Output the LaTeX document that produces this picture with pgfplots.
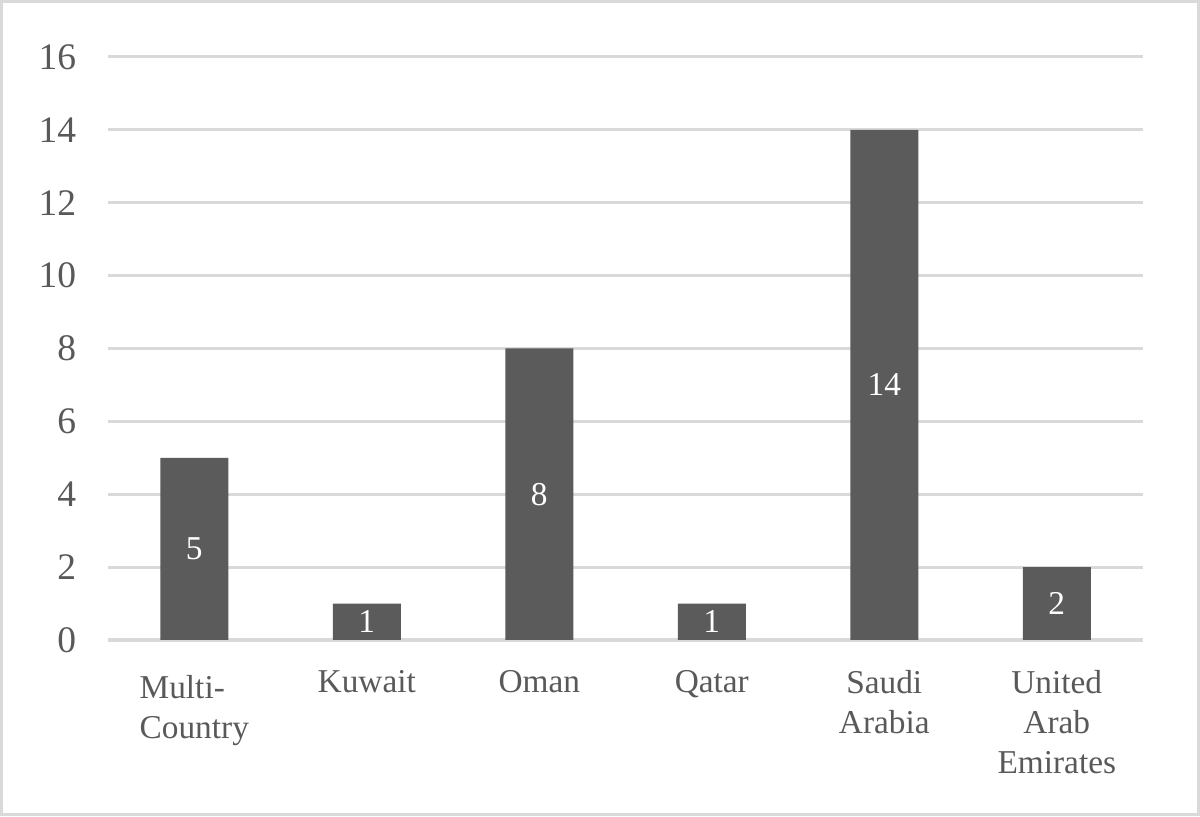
\documentclass[border=0pt]{standalone}
\usepackage{pgfplots}
\pgfplotsset{compat=1.18}
\usepackage{fontspec}
\setmainfont{Liberation Serif}
\definecolor{txtgray}{HTML}{595959}
\definecolor{bargray}{HTML}{5B5B5B}
\definecolor{gridgray}{HTML}{D9D9D9}
\begin{document}
\begin{tikzpicture}
\begin{axis}[
  scale only axis,
  width=372.6pt, height=209.9pt,
  ybar, bar width=24.5pt,
  xmin=-0.5, xmax=5.5,
  ymin=0, ymax=16,
  ytick={0,2,...,16},
  xtick=data,
  xticklabels={{\begin{tabular}{@{}l@{}}Multi-\\Country\end{tabular}},Kuwait,Oman,Qatar,Saudi\\Arabia,United\\Arab\\Emirates},
  axis line style={draw=none},
  major tick length=0pt,
  ymajorgrids,
  grid style={gridgray, line width=1.1pt},
  /pgf/number format/assume math mode=true,
  tick label style={font=\fontsize{12}{14.4}\selectfont, text=txtgray},
  xticklabel style={align=center, anchor=north, yshift=-7.5pt},
  yticklabel style={anchor=east, xshift=-8pt, font=\fontsize{13.5}{15}\selectfont},
  nodes near coords,
  point meta=y,
  visualization depends on={y/2 \as \half},
  every node near coord/.append style={font=\fontsize{12}{14.4}\selectfont, text=white, anchor=center, shift={(axis direction cs:0,-\half)}},
]
\addplot[fill=bargray, draw=none] coordinates {(0,5) (1,1) (2,8) (3,1) (4,14) (5,2)};
\end{axis}
\draw[gridgray, line width=1.1pt] (-38.35pt,-62.85pt) rectangle (392.55pt,229.85pt);
\end{tikzpicture}
\end{document}
